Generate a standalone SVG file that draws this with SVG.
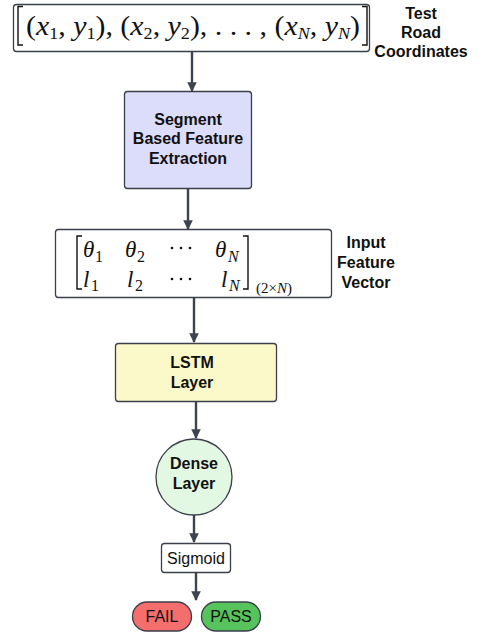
<svg xmlns="http://www.w3.org/2000/svg" width="484" height="633" viewBox="0 0 484 633">
<style>
.box{stroke:#3a3f4a;stroke-width:1.3}
.lbl{font-family:"Liberation Sans",Arial,sans-serif;font-weight:bold;font-size:16px;fill:#111;text-anchor:middle}
.txt{font-family:"Liberation Sans",Arial,sans-serif;font-size:16px;fill:#111;text-anchor:middle}
.m{font-family:"Liberation Serif","DejaVu Serif",serif;fill:#111}
.i{font-style:italic}
.s{font-size:17px}
.edge{stroke:#3d4350;stroke-width:2.4;fill:none;marker-end:url(#ah)}
.br{stroke:#111;stroke-width:1.4;fill:none}
</style>
<defs>
<marker id="ah" viewBox="0 0 10 10" refX="9" refY="5" markerWidth="4" markerHeight="4" orient="auto" markerUnits="strokeWidth">
<path d="M0,0 L10,5 L0,10 z" fill="#3d4350"/>
</marker>
</defs>
<rect width="484" height="633" fill="#fff"/>

<g id="connectors">
<line class="edge" x1="192" y1="52" x2="192" y2="91"/>
<line class="edge" x1="188" y1="189" x2="188" y2="229"/>
<line class="edge" x1="194" y1="298" x2="194" y2="342"/>
<line class="edge" x1="196" y1="402" x2="196" y2="438"/>
<line class="edge" x1="194" y1="515" x2="194" y2="542"/>
<line class="edge" x1="196" y1="572" x2="196" y2="600"/>
</g>

<g id="coords">
<rect class="box" x="13.5" y="4.5" width="356" height="47" rx="3" fill="#fff"/>
<path class="br" d="M23,6.5 H18 V45 H23 M362,6.5 H367 V45 H362"/>
<text class="m" font-size="28" x="26" y="35" textLength="334" lengthAdjust="spacingAndGlyphs">(<tspan class="i">x</tspan><tspan class="s" dy="4">1</tspan><tspan dy="-4">, </tspan><tspan class="i">y</tspan><tspan class="s" dy="4">1</tspan><tspan dy="-4">), (</tspan><tspan class="i">x</tspan><tspan class="s" dy="4">2</tspan><tspan dy="-4">, </tspan><tspan class="i">y</tspan><tspan class="s" dy="4">2</tspan><tspan dy="-4">), . . . , (</tspan><tspan class="i">x</tspan><tspan class="s i" dy="4">N</tspan><tspan dy="-4">, </tspan><tspan class="i">y</tspan><tspan class="s i" dy="4">N</tspan><tspan dy="-4">)</tspan></text>
</g>
<g id="coords-label">
<text class="lbl" x="421" y="19">Test</text>
<text class="lbl" x="421" y="38">Road</text>
<text class="lbl" x="421" y="57">Coordinates</text>
</g>

<g id="segment">
<rect class="box" x="124.5" y="91.5" width="127" height="97" rx="3" fill="#dcdcfb"/>
<text class="lbl" x="188" y="125">Segment</text>
<text class="lbl" x="188" y="144">Based Feature</text>
<text class="lbl" x="188" y="164">Extraction</text>
</g>

<g id="feature">
<rect class="box" x="55.5" y="229.5" width="276" height="68" rx="3" fill="#fff"/>
<path class="br" d="M82,236 H77 V289 H82 M243,236 H248 V289 H243"/>
<text class="m" font-size="23" y="257"><tspan x="83" class="i">θ</tspan><tspan x="95" y="262" font-size="16">1</tspan><tspan x="125" y="257" class="i">θ</tspan><tspan x="137" y="262" font-size="16">2</tspan><tspan x="215" y="257" class="i">θ</tspan><tspan x="228" y="262" font-size="16" class="i">N</tspan></text>
<text class="m" font-size="23" y="287"><tspan x="83" class="i">l</tspan><tspan x="91" y="291" font-size="16">1</tspan><tspan x="127" y="287" class="i">l</tspan><tspan x="135" y="291" font-size="16">2</tspan><tspan x="221" y="287" class="i">l</tspan><tspan x="229" y="291" font-size="16" class="i">N</tspan></text>
<text class="m" x="256" y="293" font-size="15">(2×<tspan class="i">N</tspan>)</text>
<g fill="#111">
<circle cx="172" cy="248" r="1.3"/><circle cx="181" cy="248" r="1.3"/><circle cx="190" cy="248" r="1.3"/>
<circle cx="172" cy="279" r="1.3"/><circle cx="181" cy="279" r="1.3"/><circle cx="190" cy="279" r="1.3"/>
</g>
</g>
<g id="feature-label">
<text class="lbl" x="366" y="248">Input</text>
<text class="lbl" x="366" y="268">Feature</text>
<text class="lbl" x="366" y="288">Vector</text>
</g>

<g id="lstm">
<rect class="box" x="115.5" y="343.5" width="161" height="58" rx="3" fill="#fbf9c9"/>
<text class="lbl" x="192" y="368">LSTM</text>
<text class="lbl" x="192" y="388">Layer</text>
</g>

<g id="dense">
<circle class="box" cx="194" cy="477" r="38" fill="#e2f8e2"/>
<text class="lbl" x="194" y="469">Dense</text>
<text class="lbl" x="194" y="489">Layer</text>
</g>

<g id="sigmoid">
<rect class="box" x="161.5" y="543.5" width="69" height="29" rx="3" fill="#fff"/>
<text class="txt" x="196" y="564">Sigmoid</text>
</g>

<g id="fail">
<rect class="box" x="132.5" y="602" width="59" height="29" rx="14.5" fill="#f56e6e"/>
<text class="txt" x="162" y="622">FAIL</text>
</g>
<g id="pass">
<rect class="box" x="201.5" y="602" width="59" height="29" rx="14.5" fill="#56c35c"/>
<text class="txt" x="231" y="622">PASS</text>
</g>
</svg>
